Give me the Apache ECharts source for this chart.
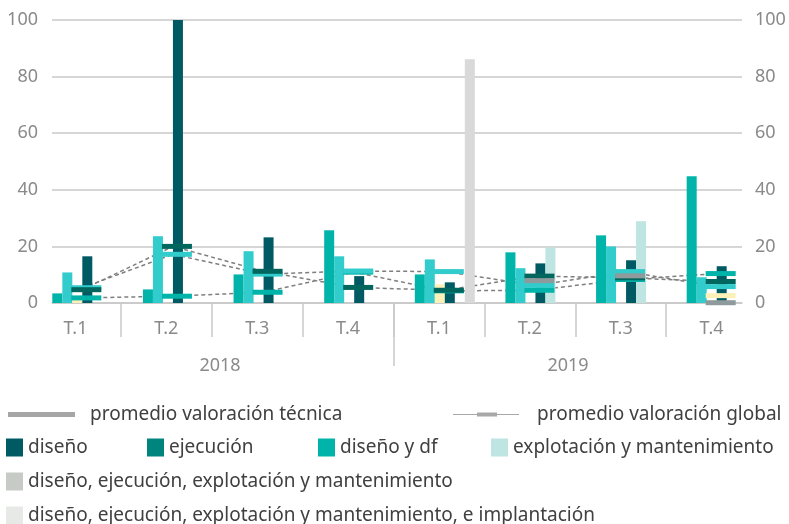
<!DOCTYPE html>
<html>
<head>
<meta charset="utf-8">
<script src="https://cdn.jsdelivr.net/npm/echarts@6/dist/echarts.min.js"></script>
<style>
  html, body { margin: 0; padding: 0; background: #ffffff; }
  #chart { width: 789px; height: 524px; }
</style>
</head>
<body>
<div id="chart"></div>
<script>
// categorías (trimestres) y años
const quarters = ['T.1', 'T.2', 'T.3', 'T.4', 'T.1', 'T.2', 'T.3', 'T.4']
const years = ['2018', '2019']

// barras
const disenoDf = [3.4, 4.8, 10.1, 25.7, 10.1, 17.9, 23.9, 44.8]
const serieCian = [10.8, 23.6, 18.3, 16.5, 15.4, 12.3, 20.0, 9.1]
const serieAmarilla = [1.5, '-', '-', '-', 6.6, '-', '-', '-']
const diseno = [16.5, 100, 23.2, 9.5, 7.3, 14.0, 15.1, 13.0]
const explotacion = ['-', '-', '-', '-', '-', 19.6, 28.9, '-']
const implantacion = ['-', '-', '-', '-', 86.1, '-', '-', '-']

// marcas de promedio (guiones)
const dashTeal = [1.8, 2.4, 3.8, 10.9, 4.3, 4.5, 8.3, 10.4]
const dashCian = [5.4, 17.2, 10.2, 11.3, 11.1, 6.2, 11.1, 5.8]
const dashOscuro = [4.7, 20.0, 11.2, 5.5, 4.5, 9.5, 8.9, 7.6]
const dashGris = ['-', '-', '-', '-', '-', 7.9, 9.6, 0.1]
const dashAmarillo = ['-', '-', '-', '-', '-', '-', '-', 2.6]

// eje y
const yMin = 0
const yMax = 100
const yStep = 20

const FONT = '"Noto Sans", sans-serif'
const AXIS_GRAY = '#8a8a8a'
const LINE_GRAY = '#c8c8c8'

const chart = echarts.init(document.getElementById('chart'))

const barSeries = (name, data, color) => ({
  name: name,
  type: 'bar',
  xAxisIndex: 0,
  yAxisIndex: 0,
  data: data,
  barWidth: 10,
  barGap: '0%',
  itemStyle: { color: color },
  z: 2
})

const dashLine = (data) => ({
  type: 'line',
  xAxisIndex: 0,
  yAxisIndex: 0,
  data: data,
  symbol: 'none',
  lineStyle: { color: '#7f7f7f', width: 1.5, type: [4, 3] },
  z: 1,
  silent: true
})

const dashMarks = (name, data, color) => ({
  name: name,
  type: 'line',
  xAxisIndex: 0,
  yAxisIndex: 0,
  data: data,
  symbol: 'rect',
  symbolSize: [30, 5],
  symbolOffset: [4, 0],
  showAllSymbol: true,
  itemStyle: { color: color },
  lineStyle: { opacity: 0 },
  z: 3
})

const legendItem = (name, left, top, extra) => Object.assign({
  data: [name],
  left: left,
  top: top,
  padding: 0,
  selectedMode: false,
  icon: 'rect',
  itemWidth: 17,
  itemHeight: 18,
  textStyle: { fontFamily: FONT, fontSize: 19, color: '#404040' }
}, extra || {})

const option = {
  backgroundColor: '#ffffff',
  animation: false,
  grid: [
    { left: 37, right: 27, top: 20, bottom: 221 },   // datos
    { left: 52, right: 47, top: 20, bottom: 221 },   // líneas de división
    { left: 30, right: 32, top: 303, bottom: 187 },  // etiquetas T.x
    { left: 46, right: 47, top: 303, bottom: 158 }   // años
  ],
  xAxis: [
    { type: 'category', gridIndex: 0, data: quarters, show: false },
    {
      type: 'category', gridIndex: 1, data: quarters,
      axisLine: { show: true, lineStyle: { color: LINE_GRAY, width: 1.5 } },
      axisTick: { show: false },
      axisLabel: { show: false }
    },
    {
      type: 'category', gridIndex: 2, data: quarters,
      axisLine: { show: false },
      axisTick: { show: false },
      splitLine: { show: true, showMinLine: false, showMaxLine: false, lineStyle: { color: LINE_GRAY, width: 1.5 } },
      axisLabel: { inside: true, color: AXIS_GRAY, fontFamily: FONT, fontSize: 18, margin: 8, verticalAlign: 'middle' }
    },
    {
      type: 'category', gridIndex: 3, data: years,
      axisLine: { show: false },
      axisTick: { show: false },
      splitLine: { show: true, showMinLine: false, showMaxLine: false, lineStyle: { color: LINE_GRAY, width: 1.5 } },
      axisLabel: { color: AXIS_GRAY, fontFamily: FONT, fontSize: 18, margin: 0, verticalAlign: 'middle' }
    }
  ],
  yAxis: [
    { type: 'value', gridIndex: 0, min: yMin, max: yMax, interval: yStep, show: false },
    {
      type: 'value', gridIndex: 1, position: 'left', min: yMin, max: yMax, interval: yStep,
      axisLine: { show: false }, axisTick: { show: false },
      splitLine: { lineStyle: { color: LINE_GRAY, width: 1.5 } },
      axisLabel: { color: AXIS_GRAY, fontFamily: FONT, fontSize: 18, margin: 14 }
    },
    {
      type: 'value', gridIndex: 1, position: 'right', min: yMin, max: yMax, interval: yStep,
      axisLine: { show: false }, axisTick: { show: false },
      splitLine: { show: false },
      axisLabel: { color: AXIS_GRAY, fontFamily: FONT, fontSize: 18, margin: 13 }
    },
    { type: 'value', gridIndex: 2, min: 0, max: 1, show: false },
    { type: 'value', gridIndex: 3, min: 0, max: 1, show: false }
  ],
  legend: [
    legendItem('promedio valoración técnica', 8, 405, {
      itemWidth: 67, itemHeight: 5,
      data: [{ name: 'promedio valoración técnica', icon: 'rect', itemStyle: { color: '#a6a6a6', borderWidth: 0 } }],
      textStyle: { fontFamily: FONT, fontSize: 19, color: '#404040', padding: [0, 0, 0, 10] }
    }),
    legendItem('promedio valoración global', 453, 405, {
      itemWidth: 66, itemHeight: 4,
      data: [{
        name: 'promedio valoración global',
        icon: 'path://M0,1.5H24V0H44V1.5H66V2.5H44V4H24V2.5H0Z',
        itemStyle: { color: '#a8a8a8', borderWidth: 0 }
      }],
      textStyle: { fontFamily: FONT, fontSize: 19, color: '#404040', padding: [0, 0, 0, 13] }
    }),
    legendItem('diseño', 6, 438),
    legendItem('ejecución', 147, 438),
    legendItem('diseño y df', 318, 438),
    legendItem('explotación y mantenimiento', 491, 438),
    legendItem('diseño, ejecución, explotación y mantenimiento', 6, 472, {
      data: [{ name: 'diseño, ejecución, explotación y mantenimiento', itemStyle: { color: '#c7cbc5' } }]
    }),
    legendItem('diseño, ejecución, explotación y mantenimiento, e implantación', 6, 506, {
      data: [{ name: 'diseño, ejecución, explotación y mantenimiento, e implantación', itemStyle: { color: '#e7e9e6' } }]
    })
  ],
  series: [
    barSeries('diseño y df', disenoDf, '#00b4aa'),
    barSeries('serie cian', serieCian, '#33cccc'),
    barSeries('serie amarilla', serieAmarilla, '#fdf1b8'),
    barSeries('diseño', diseno, '#005a63'),
    barSeries('explotación y mantenimiento', explotacion, '#bee5e2'),
    barSeries('diseño, ejecución, explotación y mantenimiento, e implantación', implantacion, '#d9d9d9'),

    dashLine(dashTeal),
    dashLine(dashCian),
    dashLine(dashOscuro),

    dashMarks('guion teal', dashTeal, '#00b4aa'),
    dashMarks('guion cian', dashCian, '#33cccc'),
    dashMarks('guion oscuro', dashOscuro, '#00665e'),
    dashMarks('promedio valoración técnica', dashGris, '#8e9a9b'),
    dashMarks('guion amarillo', dashAmarillo, '#fdf1b8'),

    // sólo para la leyenda
    { name: 'ejecución', type: 'bar', xAxisIndex: 1, yAxisIndex: 1, data: [], itemStyle: { color: '#00857e' } },
    { name: 'diseño, ejecución, explotación y mantenimiento', type: 'bar', xAxisIndex: 1, yAxisIndex: 1, data: [], itemStyle: { color: '#c7cbc5' } },
    { name: 'promedio valoración global', type: 'line', xAxisIndex: 1, yAxisIndex: 1, data: [], itemStyle: { color: '#999999' }, lineStyle: { color: '#c0c0c0' } }
  ]
}

chart.setOption(option)
</script>
</body>
</html>
